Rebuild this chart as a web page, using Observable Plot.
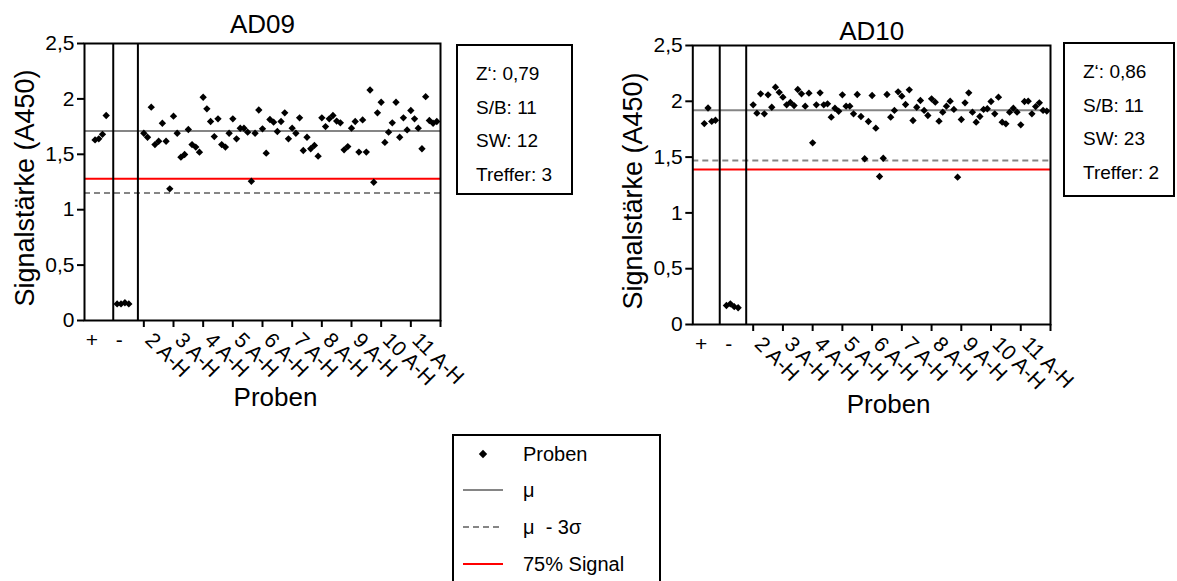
<!DOCTYPE html>
<html>
<head>
<meta charset="utf-8">
<script src="https://cdn.jsdelivr.net/npm/d3@7"></script>
<script src="https://cdn.jsdelivr.net/npm/@observablehq/plot@0.6"></script>
<style>
html, body { margin: 0; padding: 0; background: #fff; overflow: hidden; }
#root { position: relative; width: 1177px; height: 581px; overflow: hidden;
  font-family: "Liberation Sans", Arial, sans-serif; color: #000; }
.chart { position: absolute; top: 0; }
.box { position: absolute; border: 2px solid #000; box-sizing: border-box; background: #fff; }
.box .ln { position: absolute; white-space: pre; line-height: 1; }
</style>
</head>
<body>
<div id="root"></div>
<script>
// ---------- data ----------
const titles = ["AD09", "AD10"];
const controlLabels = ["+", "-"];
const sampleLabels = ["2 A-H", "3 A-H", "4 A-H", "5 A-H", "6 A-H", "7 A-H", "8 A-H", "9 A-H", "10 A-H", "11 A-H"];
const yTicks = [0, 0.5, 1, 1.5, 2, 2.5];
const xLabel = "Proben";
const yLabel = "Signalstärke (A450)";

const ad09Pos = [1.63, 1.64, 1.68, 1.85];
const ad09Neg = [0.15, 0.15, 0.16, 0.15];
const ad09Samples = [
  1.69, 1.654, 1.925, 1.588, 1.618, 1.78, 1.618, 1.188,
  1.844, 1.69, 1.474, 1.498, 1.724, 1.588, 1.565, 1.519,
  2.015, 1.91, 1.796, 1.66, 1.82, 1.588, 1.565, 1.69,
  1.82, 1.64, 1.735, 1.735, 1.70, 1.257, 1.69, 1.90,
  1.73, 1.51, 1.814, 1.79, 1.706, 1.796, 1.874, 1.64,
  1.736, 1.69, 1.829, 1.534, 1.654, 1.55, 1.58, 1.483,
  1.829, 1.75, 1.82, 1.85, 1.80, 1.784, 1.54, 1.57,
  1.736, 1.796, 1.52, 1.81, 1.52, 2.08, 1.248, 1.874,
  1.97, 1.607, 1.70, 1.784, 1.97, 1.654, 1.829, 1.72,
  1.895, 1.82, 1.736, 1.55, 2.02, 1.805, 1.78, 1.796
];
const ad09Mean = 1.71, ad09Minus3Sigma = 1.15, ad09Signal75 = 1.28;
const ad09Stats = ["Z‘: 0,79", "S/B: 11", "SW: 12", "Treffer: 3"];

const ad10Pos = [1.80, 1.94, 1.82, 1.83];
const ad10Neg = [0.17, 0.185, 0.16, 0.15];
const ad10Samples = [
  1.968, 1.894, 2.067, 1.888, 2.058, 1.947, 2.127, 2.08,
  2.037, 1.968, 1.99, 1.962, 2.106, 2.067, 1.956, 2.073,
  1.628, 1.968, 2.076, 1.968, 1.977, 1.858, 1.938, 1.911,
  2.058, 1.956, 1.956, 1.888, 2.061, 1.864, 1.485, 1.819,
  2.052, 1.759, 1.326, 1.49, 2.061, 1.858, 1.918, 2.085,
  2.046, 1.971, 2.103, 1.828, 1.947, 2.007, 1.918, 1.873,
  2.022, 1.992, 1.822, 1.903, 1.956, 2.001, 1.927, 1.32,
  1.837, 1.986, 2.076, 1.903, 1.813, 1.864, 1.927, 1.933,
  1.998, 1.888, 2.037, 1.813, 1.798, 1.903, 1.938, 1.903,
  1.789, 1.998, 2.001, 1.888, 1.953, 1.986, 1.918, 1.912
];
const ad10Mean = 1.92, ad10Minus3Sigma = 1.47, ad10Signal75 = 1.39;
const ad10Stats = ["Z‘: 0,86", "S/B: 11", "SW: 23", "Treffer: 2"];

const legendLabels = ["Proben", "μ", "μ  - 3σ", "75% Signal"];

// ---------- styling / layout ----------
const FONT = '"Liberation Sans", Arial, sans-serif';
const GRAY = "#858585", RED = "#ff0000";
const perGroup = 8;

function chart(cfg) {
  const n = cfg.samples.length;
  const tickPos = d3.range(0, n + 1, perGroup);
  const pts = cfg.samples.map((v, i) => ({x: i, y: v}));
  const pos = cfg.pos.map((v, k) => ({x: -13.15 + k * 1.0, y: v}));
  const neg = cfg.neg.map((v, k) => ({x: -7.2 + k * 1.05, y: v}));
  return Plot.plot({
    width: cfg.width, height: 430,
    marginLeft: cfg.marginLeft, marginRight: cfg.marginRight,
    marginTop: cfg.marginTop, marginBottom: cfg.marginBottom,
    style: {fontFamily: FONT, fontSize: "20px", color: "#000", background: "transparent", overflow: "visible"},
    x: {domain: [cfg.xMin, n], axis: null},
    y: {domain: [0, 2.5], axis: null},
    marks: [
      Plot.ruleY([cfg.mean], {stroke: GRAY, strokeWidth: 2}),
      Plot.ruleY([cfg.minus3], {stroke: GRAY, strokeWidth: 2, strokeDasharray: "6,4"}),
      Plot.ruleY([cfg.s75], {stroke: RED, strokeWidth: 2}),
      Plot.ruleX(cfg.separators, {stroke: "#000", strokeWidth: 2}),
      Plot.frame({stroke: "#000", strokeWidth: 2}),
      Plot.axisY({ticks: yTicks, tickFormat: () => "", tickSize: 7, strokeWidth: 2, label: null}),
      Plot.text(yTicks, {x: cfg.xMin, y: d => d, text: d => String(d).replace(".", ","),
        textAnchor: "end", dx: -10, fontSize: 21}),
      Plot.axisX({ticks: tickPos, tickFormat: () => "", tickSize: 7, strokeWidth: 2, label: null}),
      Plot.dot(pos, {x: "x", y: "y", symbol: "diamond2", r: 3.3, fill: "#000"}),
      Plot.dot(neg, {x: "x", y: "y", symbol: "diamond2", r: 3.3, fill: "#000"}),
      Plot.dot(pts, {x: "x", y: "y", symbol: "diamond2", r: 3.3, fill: "#000"}),
      Plot.text(controlLabels, {x: (d, i) => [-14, -6.6][i], y: 0, dy: 20, fontSize: 21}),
      Plot.text(sampleLabels, {x: (d, i) => i * perGroup, y: 0, rotate: 45, textAnchor: "start",
        dx: 5, dy: 16, fontSize: 21}),
      Plot.text([cfg.title], {frameAnchor: "top", dy: cfg.titleDy, lineAnchor: "bottom", fontSize: 26}),
      Plot.text([xLabel], {frameAnchor: "bottom", dx: cfg.xLabelDx, dy: cfg.xLabelDy, lineAnchor: "bottom", fontSize: 26}),
      Plot.text([yLabel], {frameAnchor: "left", textAnchor: "middle", rotate: -90, dx: -59, dy: 6, fontSize: 27})
    ]
  });
}

const root = document.getElementById("root");

function place(el, left) {
  const wrap = document.createElement("div");
  wrap.className = "chart";
  wrap.style.left = left + "px";
  wrap.appendChild(el);
  root.appendChild(wrap);
}

place(chart({
  title: titles[0], samples: ad09Samples, pos: ad09Pos, neg: ad09Neg,
  mean: ad09Mean, minus3: ad09Minus3Sigma, s75: ad09Signal75,
  width: 455, marginLeft: 84, marginRight: 15, marginTop: 43, marginBottom: 110,
  xMin: -16, separators: [-8.25, -1.6], titleDy: -11, xLabelDx: 13, xLabelDy: 85
}), 0);

place(chart({
  title: titles[1], samples: ad10Samples, pos: ad10Pos, neg: ad10Neg,
  mean: ad10Mean, minus3: ad10Minus3Sigma, s75: ad10Signal75,
  width: 455, marginLeft: 84.3, marginRight: 13, marginTop: 45, marginBottom: 106,
  xMin: -16.25, separators: [-9.0, -1.88], titleDy: -6, xLabelDx: 17, xLabelDy: 88
}), 608);

// ---------- stats boxes ----------
function statsBox(lines, left, top, w, h) {
  const b = document.createElement("div");
  b.className = "box";
  Object.assign(b.style, {left: left + "px", top: top + "px", width: w + "px", height: h + "px"});
  lines.forEach((t, i) => {
    const s = document.createElement("div");
    s.className = "ln";
    s.textContent = t;
    Object.assign(s.style, {left: "18px", top: (18 + i * 33.7) + "px", fontSize: "19px"});
    b.appendChild(s);
  });
  root.appendChild(b);
}
statsBox(ad09Stats, 456, 44, 117, 151);
statsBox(ad10Stats, 1063, 42, 112, 155);

// ---------- legend ----------
(function legend() {
  const b = document.createElement("div");
  b.className = "box";
  Object.assign(b.style, {left: "452px", top: "434px", width: "209px", height: "170px"});
  const centers = [18, 54, 91, 128]; // row centers inside box
  const ns = "http://www.w3.org/2000/svg";
  const svg = document.createElementNS(ns, "svg");
  svg.setAttribute("width", 60); svg.setAttribute("height", 150);
  Object.assign(svg.style, {position: "absolute", left: "0px", top: "0px"});
  const dia = document.createElementNS(ns, "path");
  dia.setAttribute("d", d3.symbol(d3.symbolDiamond2, 45)());
  dia.setAttribute("transform", `translate(29,${centers[0]})`);
  svg.appendChild(dia);
  [[GRAY, null], [GRAY, "6,4"], [RED, null]].forEach(([c, dash], k) => {
    const l = document.createElementNS(ns, "line");
    l.setAttribute("x1", 9); l.setAttribute("x2", 49);
    l.setAttribute("y1", centers[k + 1]); l.setAttribute("y2", centers[k + 1]);
    l.setAttribute("stroke", c); l.setAttribute("stroke-width", 2);
    if (dash) l.setAttribute("stroke-dasharray", dash);
    svg.appendChild(l);
  });
  b.appendChild(svg);
  legendLabels.forEach((t, i) => {
    const s = document.createElement("div");
    s.className = "ln";
    s.textContent = t;
    Object.assign(s.style, {left: "69px", top: (centers[i] + 6.5 - 16.9) + "px", fontSize: "20px"});
    b.appendChild(s);
  });
  root.appendChild(b);
})();
</script>
</body>
</html>
